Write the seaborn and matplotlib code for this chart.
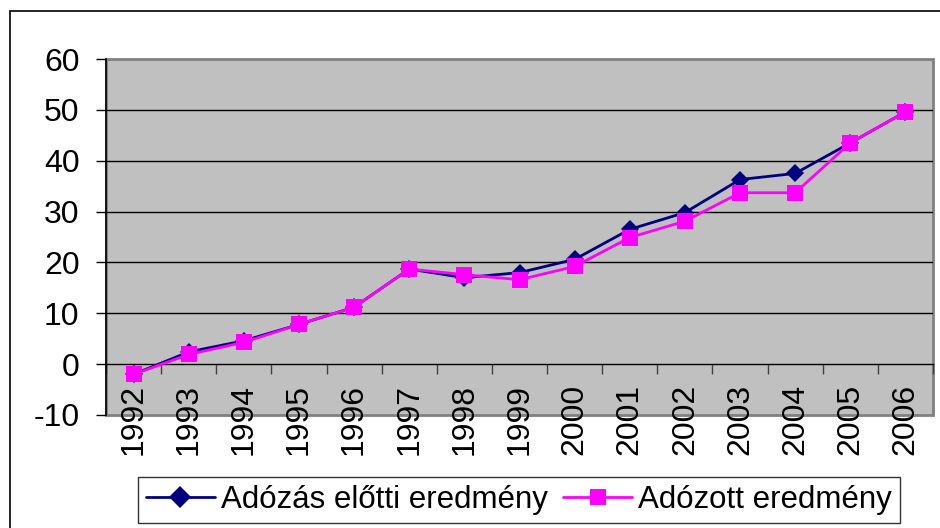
import matplotlib.pyplot as plt
import matplotlib.patches as mpatches
import seaborn as sns
import pandas as pd
import numpy as np

years = ['1992', '1993', '1994', '1995', '1996', '1997', '1998', '1999',
         '2000', '2001', '2002', '2003', '2004', '2005', '2006']
elotti = [-2.0, 2.4, 4.6, 7.8, 11.2, 18.7, 17.0, 18.0, 20.6, 26.5, 29.8, 36.3, 37.5, 43.5, 49.6]
adozott = [-2.0, 1.9, 4.3, 7.8, 11.2, 18.7, 17.6, 16.6, 19.2, 24.9, 28.1, 33.7, 33.7, 43.5, 49.6]
series_names = ['Adózás előtti eredmény', 'Adózott eredmény']
yticks = [-10, 0, 10, 20, 30, 40, 50, 60]

df = pd.DataFrame({
    'pos': list(range(len(years))) * 2,
    'value': elotti + adozott,
    'series': [series_names[0]] * len(years) + [series_names[1]] * len(years),
})

sns.set_style('white')
plt.rcParams['font.family'] = ['Liberation Sans', 'DejaVu Sans']
plt.rcParams.update({'text.color': 'black', 'xtick.color': 'black', 'ytick.color': 'black',
                     'xtick.labelcolor': 'black', 'ytick.labelcolor': 'black'})

fig = plt.figure(figsize=(9.4, 5.28), dpi=100)
W, H = 940, 528
ax = fig.add_axes([106 / W, 1 - 415 / H, 827 / W, 356 / H])
ax.set_facecolor('#C0C0C0')

sns.lineplot(data=df, x='pos', y='value', hue='series', style='series',
             palette={series_names[0]: '#000080', series_names[1]: '#FF00FF'},
             markers={series_names[0]: 'D', series_names[1]: 's'},
             dashes=False, markersize=11, linewidth=2, markeredgewidth=0,
             ax=ax, zorder=5)
# diamond a little smaller than the square
for line, ms in zip(ax.lines[:2], [9, 12]):
    line.set_markersize(ms)

ax.set_xlim(-0.5, len(years) - 0.5)
ax.set_ylim(-10, 60)
ax.set_yticks(yticks)
ax.set_yticklabels([str(t) for t in yticks])
for t in yticks[2:-1]:
    ax.axhline(t, color='black', lw=1, zorder=1)

# category axis crosses at zero
ax.spines['bottom'].set_position(('data', 0))
ax.spines['bottom'].set_color('black')
ax.spines['bottom'].set_linewidth(1)
ax.spines['left'].set_color('black')
ax.spines['left'].set_linewidth(1.2)
ax.spines['top'].set_visible(False)
ax.spines['right'].set_visible(False)
ax.add_patch(mpatches.Rectangle((0, 0), 1, 1, transform=ax.transAxes, fill=False,
                                edgecolor='#808080', lw=2, clip_on=False, zorder=0.5))

ax.set_xticks(np.arange(len(years) + 1) - 0.5)
ax.set_xticklabels([])
ax.set_xticks(np.arange(len(years)), minor=True)
ax.set_xticklabels(years, minor=True, rotation=90, fontsize=23)
ax.tick_params(axis='x', which='major', direction='out', length=7, width=1, color='#404040', bottom=True)
ax.tick_params(axis='x', which='minor', length=0, pad=14, bottom=True)
ax.tick_params(axis='y', direction='out', length=7, width=1, color='black', left=True,
               labelsize=23, pad=12)
ax.set_xlabel('')
ax.set_ylabel('')

leg = ax.legend(loc='center', bbox_to_anchor=(519 / W, 1 - 500 / H), bbox_transform=fig.transFigure,
                ncol=2, frameon=True, fancybox=False, fontsize=22.5, handlelength=2.2,
                handletextpad=0.2, columnspacing=0.5, borderpad=0.25, borderaxespad=0)
leg.get_frame().set_edgecolor('black')
leg.get_frame().set_linewidth(1)

fig.patches.append(mpatches.Rectangle((10 / W, -0.1), 1.0, 1.1 - 11 / H, transform=fig.transFigure,
                                      fill=False, edgecolor='black', lw=1.2))

fig.savefig('out.png', dpi=100)
